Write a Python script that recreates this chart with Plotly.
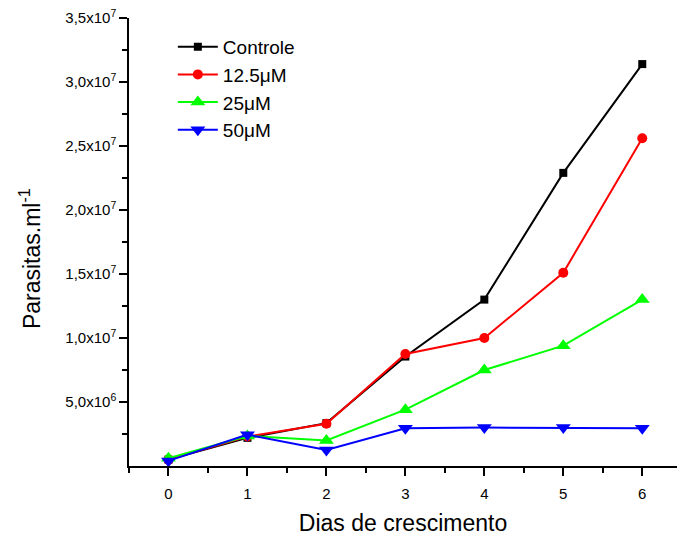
import plotly.graph_objects as go

dias = [0, 1, 2, 3, 4, 5, 6]
controle = [0.5e6, 2.2e6, 3.35e6, 8.55e6, 13.0e6, 22.9e6, 31.4e6]
c125 = [0.5e6, 2.3e6, 3.3e6, 8.75e6, 10.0e6, 15.1e6, 25.6e6]
c25 = [0.6e6, 2.35e6, 2.0e6, 4.4e6, 7.5e6, 9.4e6, 13.0e6]
c50 = [0.4e6, 2.45e6, 1.25e6, 2.95e6, 3.0e6, 3.0e6, 2.95e6]

ytickvals = [5e6, 1e7, 1.5e7, 2e7, 2.5e7, 3e7, 3.5e7]
yticktext = ["5,0x10<sup>6</sup>", "1,0x10<sup>7</sup>", "1,5x10<sup>7</sup>", "2,0x10<sup>7</sup>",
             "2,5x10<sup>7</sup>", "3,0x10<sup>7</sup>", "3,5x10<sup>7</sup>"]

series = [
    ("Controle", controle, "black", "square", 8),
    ("12.5μM", c125, "red", "circle", 10),
    ("25μM", c25, "#00ff00", "triangle-up", 13),
    ("50μM", c50, "blue", "triangle-down", 13),
]

fig = go.Figure()
for name, vals, col, sym, sz in series:
    fig.add_trace(go.Scatter(
        x=dias, y=vals, name=name, mode="lines+markers",
        line=dict(color=col, width=2),
        marker=dict(color=col, symbol=sym, size=sz,
                    line=dict(color=col, width=0)),
    ))

font = "Liberation Sans, Arial, sans-serif"
fig.update_layout(
    width=677, height=540,
    margin=dict(l=129, r=0, t=18, b=74),
    plot_bgcolor="white", paper_bgcolor="white",
    font=dict(family=font, color="black"),
    showlegend=True,
    legend=dict(x=0.08, y=0.978, xanchor="left", yanchor="top",
                font=dict(size=19, family=font), bgcolor="rgba(0,0,0,0)",
                tracegroupgap=0, itemwidth=40),
    xaxis=dict(
        range=[-0.5, 6.44], showgrid=False, zeroline=False,
        showline=True, linecolor="black", linewidth=1.5,
        ticks="outside", ticklen=8, tickwidth=1.5, tickcolor="black",
        tickvals=dias, tickfont=dict(size=15), ticklabelstandoff=5,
        minor=dict(tickvals=[-0.5, 0.5, 1.5, 2.5, 3.5, 4.5, 5.5], ticks="outside",
                   ticklen=5, tickwidth=1.5, tickcolor="black"),
        title=dict(text="Dias de crescimento", font=dict(size=23), standoff=14),
    ),
    yaxis=dict(
        range=[0, 3.5e7], showgrid=False, zeroline=False,
        showline=True, linecolor="black", linewidth=1.5,
        ticks="outside", ticklen=8, tickwidth=1.5, tickcolor="black",
        tickvals=ytickvals, ticktext=yticktext, tickfont=dict(size=15),
        minor=dict(tickvals=[2.5e6, 7.5e6, 1.25e7, 1.75e7, 2.25e7, 2.75e7, 3.25e7],
                   ticks="outside", ticklen=5, tickwidth=1.5, tickcolor="black"),
    ),
    annotations=[dict(
        text="Parasitas.ml<sup>-1</sup>", textangle=-90, showarrow=False,
        xref="paper", yref="paper", x=-0.1807, y=0.464,
        xanchor="center", yanchor="middle", font=dict(size=23, family=font),
    )],
)

fig.write_html("out.html")
